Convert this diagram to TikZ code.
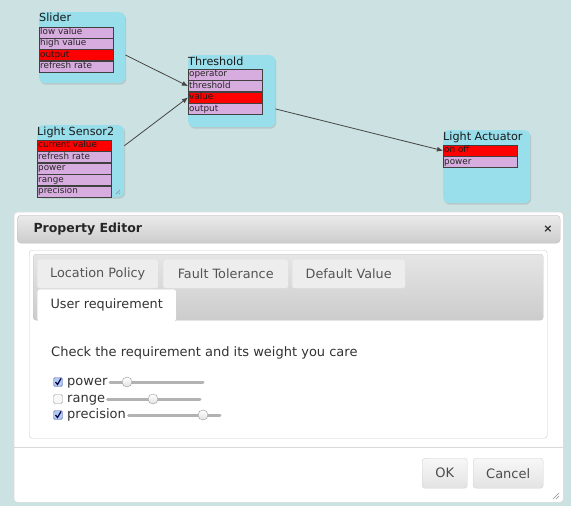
\documentclass[tikz,border=0pt]{standalone}
\usepackage{fontspec}
\setmainfont{DejaVu Sans}
\usetikzlibrary{positioning,shadows,arrows.meta}

\definecolor{bgcol}{RGB}{203,225,226}
\definecolor{compcol}{RGB}{152,222,235}
\definecolor{propcol}{RGB}{215,172,222}
\definecolor{redcol}{RGB}{255,0,0}
\definecolor{linecol}{RGB}{70,70,70}
\definecolor{chkcol}{RGB}{176,202,238}

\begin{document}
\begin{tikzpicture}[
	x=1pt, y=-1pt,
	comp/.style={rectangle, rounded corners=6pt, fill=compcol, anchor=north west, drop shadow={opacity=0.25, shadow xshift=1pt, shadow yshift=-1.5pt}},
	compname/.style={anchor=west, inner sep=0pt, font=\fontsize{11.2}{13}\selectfont, text=black!90},
	prop/.style={rectangle, draw=black!75, fill=propcol, text width=71.5pt, inner sep=1pt, minimum height=11pt, text height=6.5pt, text depth=2pt, align=left, font=\fontsize{8.8}{9}\selectfont, text=black!85},
	bound/.style={prop, fill=redcol, text=black!90},
	link/.style={draw=linecol, line width=0.8pt, -{Latex[length=6pt, width=5pt]}},
	dialog/.style={rectangle, anchor=north west, fill=white, draw=black!15, rounded corners=3pt},
	titlebar/.style={rectangle, anchor=north west, rounded corners=4pt, draw=black!25, top color=black!8, bottom color=black!20},
	tabhead/.style={rectangle, anchor=north west, rounded corners=2pt, draw=black!12, fill=black!7, font=\fontsize{12.8}{15}\selectfont, text=black!67},
	reqname/.style={anchor=west, inner sep=1pt, font=\fontsize{13}{15}\selectfont, text=black!80, text height=9pt, text depth=2.5pt},
	chk/.style={rectangle, rounded corners=1.5pt, minimum size=9pt, inner sep=0pt, draw=black!40, fill=black!3},
	chkon/.style={chk, draw=blue!50!black!60, fill=chkcol},
	checkmark/.style={draw=blue!30!black, line width=1.2pt},
	track/.style={draw=black!30, line width=3pt, line cap=round},
	knob/.style={circle, minimum size=10pt, inner sep=0pt, draw=black!40, top color=white, bottom color=black!12},
	btn/.style={rectangle, anchor=north west, rounded corners=3pt, draw=black!18, top color=black!3, bottom color=black!11, text=black!70, font=\fontsize{13}{15}\selectfont}
]
\useasboundingbox (0,0) rectangle (571,506);
\fill[bgcol] (0,0) rectangle (571,506);

% components
\node[comp, minimum width=86pt, minimum height=71pt] (slider) at (39,12) {};
\node[compname] (slider-t) at (39,17.5) {Slider};
\node[prop, anchor=north west] (slider-lo) at (39,26.5) {low value};
\node[prop, below=0pt of slider-lo] (slider-hi) {high value};
\node[bound, below=0pt of slider-hi] (slider-out) {output};
\node[prop, below=0pt of slider-out] (slider-ref) {refresh rate};

\node[comp, minimum width=87pt, minimum height=72pt] (thr) at (188,55) {};
\node[compname] (thr-t) at (188,61) {Threshold};
\node[prop, anchor=north west] (thr-op) at (188,69) {operator};
\node[prop, below=0pt of thr-op] (thr-th) {threshold};
\node[bound, below=0pt of thr-th] (thr-val) {value};
\node[prop, below=0pt of thr-val] (thr-out) {output};

\node[comp, minimum width=87pt, minimum height=72pt] (sen) at (37,125) {};
\node[compname] (sen-t) at (37,132) {Light Sensor2};
\node[bound, anchor=north west] (sen-cur) at (37,140) {current value};
\node[prop, below=0pt of sen-cur] (sen-ref) {refresh rate};
\node[prop, below=0pt of sen-ref] (sen-pow) {power};
\node[prop, below=0pt of sen-pow] (sen-ran) {range};
\node[prop, below=0pt of sen-ran] (sen-pre) {precision};
\draw[black!45] (120,190) -- (116,194) (120,193) -- (119,194);

\node[comp, minimum width=87pt, minimum height=73pt] (act) at (443,130) {};
\node[compname] (act-t) at (443,137) {Light Actuator};
\node[bound, anchor=north west] (act-onoff) at (443,145) {on off};
\node[prop, below=0pt of act-onoff] (act-pow) {power};

% links
\draw[link] (slider-out -| slider.east) -- (thr-th.west);
\draw[link] (sen-cur -| sen.east) -- (thr-val.west);
\draw[link] (thr-out -| thr.east) -- (act-onoff.west);

% property editor
\node[dialog, minimum width=549pt, minimum height=290pt] (dlg) at (14,212) {};
\node[titlebar, minimum width=543pt, minimum height=28pt] (dlg-bar) at (17,215) {};
\node[anchor=west, font=\bfseries\fontsize{12.5}{15}\selectfont, text=black!85] (dlg-title) at (30,229) {Property Editor};
\node[font=\bfseries\fontsize{11}{12}\selectfont, text=black!85] (dlg-close) at (548,229) {×};

\node[dialog, draw=black!20, minimum width=518pt, minimum height=188pt] (panel) at (29,250) {};
\node[rectangle, anchor=north west, rounded corners=3pt, draw=black!22, top color=black!10, bottom color=black!20, minimum width=510pt, minimum height=66pt] (tabs) at (33,254) {};
\node[tabhead, minimum width=121pt, minimum height=29pt] (t-loc) at (37,259) {Location Policy};
\node[tabhead, minimum width=125pt, minimum height=29pt] (t-fault) at (163,259) {Fault Tolerance};
\node[tabhead, minimum width=113pt, minimum height=29pt] (t-def) at (292,259) {Default Value};
\node[tabhead, fill=white, draw=black!20, text=black!80, minimum width=139pt, minimum height=32pt] (t-user) at (37,289) {User requirement};
\fill[white] (38,316) rectangle (175,322);

\node[reqname] (hint) at (50,353) {Check the requirement and its weight you care};

\node[chkon] (c-pow) at (58,382) {};
\node[chk] (c-ran) at (58,399) {};
\node[chkon] (c-pre) at (58,415) {};
\draw[checkmark] ([shift={(-2.5pt,0pt)}]c-pow.center) -- ([shift={(-0.5pt,-2.5pt)}]c-pow.center) -- ([shift={(3pt,3.5pt)}]c-pow.center);
\draw[checkmark] ([shift={(-2.5pt,0pt)}]c-pre.center) -- ([shift={(-0.5pt,-2.5pt)}]c-pre.center) -- ([shift={(3pt,3.5pt)}]c-pre.center);

\node[reqname] (r-pow) at (66,382) {power};
\node[reqname] (r-ran) at (66,399) {range};
\node[reqname] (r-pre) at (66,415) {precision};

\coordinate (e-pow) at (203,382);
\coordinate (e-ran) at (200,399);
\coordinate (e-pre) at (220,415);
\draw[track] ([xshift=1.5pt]r-pow.east) -- (e-pow);
\draw[track] ([xshift=1.5pt]r-ran.east) -- (e-ran);
\draw[track] ([xshift=1.5pt]r-pre.east) -- (e-pre);
\node[knob] (k-pow) at (127,382) {};
\node[knob] (k-ran) at (153,399) {};
\node[knob] (k-pre) at (203,415) {};

\draw[black!15, line width=1pt] (dlg.west |- 0,447) -- (dlg.east |- 0,447);
\node[btn, minimum width=45pt, minimum height=30pt] (ok) at (422,458) {OK};
\node[btn, minimum width=70pt, minimum height=30pt] (cancel) at (473,458) {Cancel};
\draw[black!45] (559,493) -- (553,499) (559,496) -- (556,499);
\end{tikzpicture}
\end{document}
